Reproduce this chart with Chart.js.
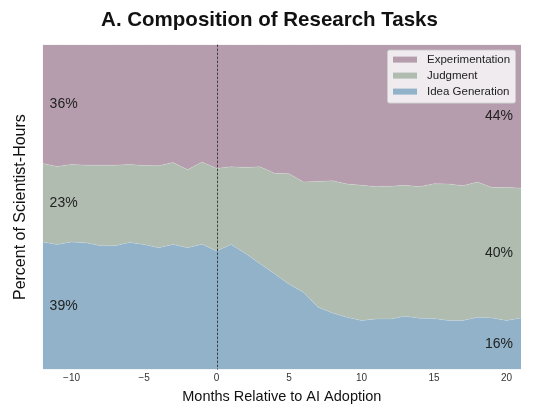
<!DOCTYPE html>
<html>
<head>
<meta charset="utf-8">
<script src="https://cdn.jsdelivr.net/npm/chart.js@4.4.0/dist/chart.umd.min.js"></script>
<style>
  body { margin: 0; background: #fff; }
</style>
</head>
<body>
<canvas id="mycanvas" width="537" height="415"></canvas>
<script>
var months = [-12, -11, -10, -9, -8, -7, -6, -5, -4, -3, -2, -1, 0, 1, 2, 3, 4,
              5, 6, 7, 8, 9, 10, 11, 12, 13, 14, 15, 16, 17, 18, 19, 20, 21];
var ideaGeneration = [39.3, 38.5, 39.3, 39.0, 38.1, 38.1, 39.1, 38.5, 37.5, 38.5, 37.5, 38.6, 36.5, 38.5, 35.7, 32.6, 29.5,
                      26.3, 23.8, 19.2, 17.4, 16.1, 15.1, 15.6, 15.6, 16.4, 15.8, 15.7, 15.1, 15.1, 16.1, 15.9, 15.1, 15.9];
var judgment = [24.1, 24.0, 23.8, 23.9, 24.8, 24.8, 24.0, 24.3, 25.2, 25.2, 24.0, 25.3, 25.4, 23.9, 26.5, 29.8, 30.9,
                34.0, 33.9, 38.7, 40.7, 41.0, 41.6, 40.7, 40.8, 40.3, 40.5, 41.5, 42.0, 41.5, 41.6, 40.1, 41.0, 39.9];
var experimentation = [36.6, 37.5, 36.9, 37.1, 37.1, 37.1, 36.9, 37.2, 37.3, 36.3, 38.5, 36.1, 38.1, 37.6, 37.8, 37.6, 39.6,
                       39.7, 42.3, 42.1, 41.9, 42.9, 43.3, 43.7, 43.6, 43.3, 43.7, 42.8, 42.9, 43.4, 42.3, 44.0, 43.9, 44.2];
var seriesNames = ['Idea Generation', 'Judgment', 'Experimentation'];
var seriesColors = ['#91b2c8', '#afbcaf', '#b69dae'];
var startLabels = ['39%', '23%', '36%'];
var endLabels = ['16%', '40%', '44%'];
var xTicks = [-10, -5, 0, 5, 10, 15, 20];
var adoptionMonth = 0;

Chart.defaults.font.family = '"Liberation Sans", Arial, sans-serif';

function points(values) {
  return months.map(function (m, i) { return { x: m, y: values[i] }; });
}

var overlay = {
  id: 'overlay',
  afterDatasetsDraw: function (chart) {
    var ctx = chart.ctx, area = chart.chartArea;
    var xs = chart.scales.x, ys = chart.scales.y;
    var series = [ideaGeneration, judgment, experimentation];

    ctx.save();
    // AI adoption marker
    var px = Math.round(xs.getPixelForValue(adoptionMonth)) + 0.5;
    ctx.strokeStyle = '#333';
    ctx.lineWidth = 0.9;
    ctx.setLineDash([2.5, 1.5]);
    ctx.beginPath();
    ctx.moveTo(px, area.top);
    ctx.lineTo(px, area.bottom);
    ctx.stroke();
    ctx.setLineDash([]);

    // share labels at the start and end of the window
    function mids(i) {
      var out = [], base = 0;
      series.forEach(function (s) { out.push(base + s[i] / 2); base += s[i]; });
      return out;
    }
    ctx.font = '14px "Liberation Sans", Arial, sans-serif';
    ctx.fillStyle = '#222';
    ctx.textBaseline = 'middle';
    ctx.textAlign = 'left';
    mids(0).forEach(function (v, k) {
      ctx.fillText(startLabels[k], area.left + 7, ys.getPixelForValue(v));
    });
    ctx.textAlign = 'right';
    mids(months.length - 1).forEach(function (v, k) {
      ctx.fillText(endLabels[k], area.right - 8, ys.getPixelForValue(v));
    });

    // legend box, top series first
    var bw = 128, bh = 53;
    var bx = area.right - 6 - bw, by = area.top + 5;
    ctx.fillStyle = 'rgba(255,255,255,0.8)';
    ctx.strokeStyle = 'rgba(205,205,205,0.9)';
    ctx.lineWidth = 1;
    ctx.beginPath();
    ctx.roundRect(bx + 0.5, by + 0.5, bw, bh, 2);
    ctx.fill();
    ctx.stroke();
    ctx.font = '11.5px "Liberation Sans", Arial, sans-serif';
    ctx.textAlign = 'left';
    for (var k = 0; k < 3; k++) {
      var idx = 2 - k;
      var ry = by + 10 + k * 16;
      ctx.fillStyle = seriesColors[idx];
      ctx.fillRect(bx + 6, ry - 3, 24, 6);
      ctx.fillStyle = '#222';
      ctx.fillText(seriesNames[idx], bx + 40, ry);
    }
    ctx.restore();
  }
};

var ctx = document.getElementById('mycanvas');
var chart = new Chart(ctx, {
  type: 'line',
  data: {
    datasets: [
      { label: seriesNames[0], data: points(ideaGeneration), backgroundColor: seriesColors[0], fill: 'origin' },
      { label: seriesNames[1], data: points(judgment), backgroundColor: seriesColors[1], fill: '-1' },
      { label: seriesNames[2], data: points(experimentation), backgroundColor: seriesColors[2], fill: '-1' }
    ]
  },
  options: {
    responsive: false,
    animation: false,
    layout: { padding: { left: 18, right: 16, top: 0, bottom: 0 } },
    elements: {
      point: { radius: 0 },
      line: { borderWidth: 0.6, borderColor: 'rgba(255,255,255,0.25)', tension: 0 }
    },
    plugins: {
      legend: { display: false },
      tooltip: { enabled: false },
      title: {
        display: true,
        text: 'A. Composition of Research Tasks',
        color: '#111',
        font: { size: 20.5, weight: 'bold' },
        padding: { top: 8, bottom: 12 }
      }
    },
    scales: {
      x: {
        type: 'linear',
        min: -12,
        max: 21,
        grid: { display: false, drawTicks: false },
        border: { display: false },
        afterBuildTicks: function (axis) {
          axis.ticks = xTicks.map(function (v) { return { value: v }; });
        },
        ticks: {
          padding: 3,
          color: '#333',
          maxRotation: 0,
          font: { size: 10 },
          callback: function (v) { return v < 0 ? '\u2212' + Math.abs(v) : String(v); }
        },
        title: {
          display: true,
          text: 'Months Relative to AI Adoption',
          color: '#111',
          font: { size: 14.5 },
          padding: { top: 1, bottom: 9 }
        }
      },
      y: {
        stacked: true,
        min: 0,
        max: 100,
        grid: { display: false, drawTicks: false },
        border: { display: false },
        ticks: { display: false },
        title: {
          display: true,
          text: 'Percent of Scientist-Hours',
          color: '#111',
          font: { size: 16 },
          padding: { top: -6.6, bottom: 12 }
        }
      }
    }
  },
  plugins: [overlay]
});
</script>
</body>
</html>
